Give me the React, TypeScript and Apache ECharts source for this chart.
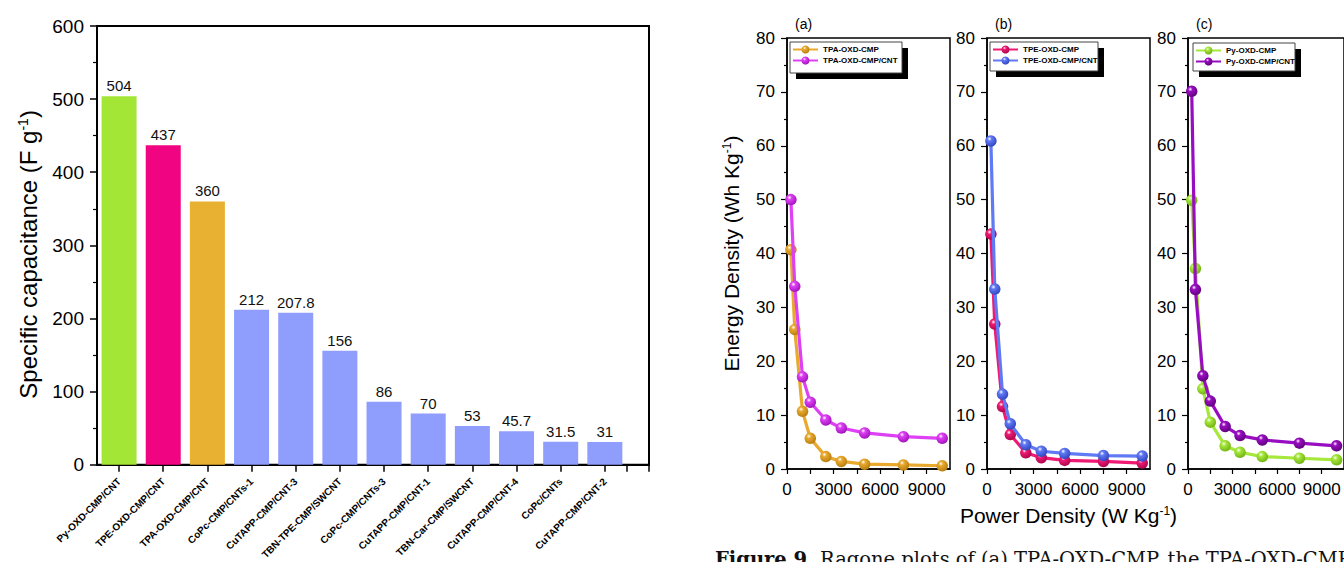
import React, { useEffect, useRef } from 'react';
import * as echarts from 'echarts';

// ---------- Data: specific capacitance bar chart ----------
const barCategories = [
  'Py-OXD-CMP/CNT',
  'TPE-OXD-CMP/CNT',
  'TPA-OXD-CMP/CNT',
  'CoPc-CMP/CNTs-1',
  'CuTAPP-CMP/CNT-3',
  'TBN-TPE-CMP/SWCNT',
  'CoPc-CMP/CNTs-3',
  'CuTAPP-CMP/CNT-1',
  'TBN-Car-CMP/SWCNT',
  'CuTAPP-CMP/CNT-4',
  'CoPc/CNTs',
  'CuTAPP-CMP/CNT-2',
];
const capacitance = [504, 437, 360, 212, 207.8, 156, 86, 70, 53, 45.7, 31.5, 31];
const barColors = [
  '#A4E636', '#F00482', '#E8B132',
  '#8F9DFC', '#8F9DFC', '#8F9DFC', '#8F9DFC', '#8F9DFC',
  '#8F9DFC', '#8F9DFC', '#8F9DFC', '#8F9DFC',
];

// ---------- Data: Ragone plots ----------
const powerDensity = [250, 500, 1000, 1500, 2500, 3500, 5000, 7500, 10000];
const tpaCmp = [40.7, 25.9, 10.7, 5.7, 2.3, 1.4, 0.9, 0.75, 0.6];
const tpaCmpCnt = [50.0, 33.9, 17.1, 12.4, 9.1, 7.6, 6.7, 6.0, 5.7];
const tpeCmp = [43.6, 26.9, 11.6, 6.4, 3.0, 2.1, 1.6, 1.4, 1.1];
const tpeCmpCnt = [60.9, 33.4, 13.9, 8.4, 4.5, 3.3, 2.9, 2.5, 2.4];
const pyCmp = [49.9, 37.2, 14.9, 8.7, 4.3, 3.1, 2.3, 2.0, 1.7];
const pyCmpCnt = [70.1, 33.3, 17.3, 12.6, 7.9, 6.2, 5.4, 4.8, 4.3];

const FONT = 'Liberation Sans, Arial, Helvetica, sans-serif';
const SERIF = 'DejaVu Serif, Liberation Serif, serif';

const panels = [
  {
    tag: '(a)',
    left: 787,
    box: [790, 42, 112, 31],
    series: [
      { name: 'TPA-OXD-CMP', data: tpaCmp, color: '#E8A92E', dark: '#B97F10' },
      { name: 'TPA-OXD-CMP/CNT', data: tpaCmpCnt, color: '#DE40F4', dark: '#A315BD' },
    ],
  },
  {
    tag: '(b)',
    left: 987,
    box: [990, 42, 108, 29],
    series: [
      { name: 'TPE-OXD-CMP', data: tpeCmp, color: '#EE1A74', dark: '#B0064E' },
      { name: 'TPE-OXD-CMP/CNT', data: tpeCmpCnt, color: '#6079F4', dark: '#3447C2' },
    ],
  },
  {
    tag: '(c)',
    left: 1188,
    box: [1193, 43, 102, 28],
    series: [
      { name: 'Py-OXD-CMP', data: pyCmp, color: '#A6E83C', dark: '#73B315' },
      { name: 'Py-OXD-CMP/CNT', data: pyCmpCnt, color: '#990DC2', dark: '#62047E' },
    ],
  },
];

function sphere(color: string, dark: string) {
  return new echarts.graphic.RadialGradient(0.38, 0.32, 0.68, [
    { offset: 0, color: '#FFFFFF' },
    { offset: 0.28, color },
    { offset: 1, color: dark },
  ]);
}

function buildOption() {
  const grids: any[] = [
    { left: 97, top: 26, width: 552, height: 441, show: true, borderColor: '#000', borderWidth: 2, backgroundColor: 'transparent' },
  ];
  const xAxes: any[] = [
    {
      type: 'value',
      gridIndex: 0,
      min: 0,
      max: barCategories.length + 0.5,
      splitLine: { show: false },
      axisLine: { lineStyle: { color: '#000', width: 2 } },
      axisTick: {
        show: true,
        length: 7,
        lineStyle: { color: '#000', width: 1.5 },
        customValues: [...barCategories.map((_, i) => i + 0.5), barCategories.length, barCategories.length + 0.5],
      },
      axisLabel: {
        customValues: barCategories.map((_, i) => i + 0.5),
        formatter: (v: number) => barCategories[Math.floor(v)] ?? '',
        rotate: 45,
        fontFamily: FONT,
        fontWeight: 'bold',
        fontSize: 10,
        color: '#000',
        margin: 15,
      },
    },
  ];
  const yAxes: any[] = [
    {
      type: 'value',
      gridIndex: 0,
      min: 0,
      max: 600,
      interval: 100,
      splitLine: { show: false },
      axisLine: { show: true, lineStyle: { color: '#000', width: 2 } },
      axisTick: { show: true, length: 7, lineStyle: { color: '#000', width: 1.5 } },
      minorTick: { show: true, splitNumber: 2, length: 4, lineStyle: { color: '#000', width: 1.2 } },
      axisLabel: { fontFamily: FONT, fontSize: 19, color: '#000', margin: 13 },
      name: 'Specific capacitance (F g{sup|-1})',
      nameLocation: 'middle',
      nameGap: 57,
      nameTextStyle: {
        fontFamily: FONT,
        fontSize: 24,
        color: '#000',
        padding: [0, 18, 0, 0],
        rich: { sup: { fontFamily: FONT, fontSize: 14, color: '#000', verticalAlign: 'top' } },
      },
    },
  ];
  const series: any[] = [
    {
      type: 'bar',
      xAxisIndex: 0,
      yAxisIndex: 0,
      barWidth: 35,
      data: capacitance.map((v, i) => ({ value: [i + 0.5, v], itemStyle: { color: barColors[i] } })),
      label: {
        show: true,
        position: 'top',
        distance: 3,
        fontFamily: FONT,
        fontSize: 15,
        color: '#111',
        formatter: (p: any) => String(p.value[1]),
      },
    },
  ];
  const legends: any[] = [];
  const graphics: any[] = [];

  panels.forEach((p, k) => {
    const gi = k + 1;
    grids.push({ left: p.left, top: 38, width: 163, height: 431, show: true, borderColor: '#000', borderWidth: 1.5, backgroundColor: 'transparent' });
    xAxes.push({
      type: 'value',
      gridIndex: gi,
      min: 0,
      max: 10500,
      interval: 1500,
      splitLine: { show: false },
      axisLine: { onZero: false, lineStyle: { color: '#000', width: 1.5 } },
      axisTick: { length: 5, lineStyle: { color: '#000', width: 1.2 } },
      axisLabel: {
        fontFamily: FONT,
        fontSize: 17,
        color: '#000',
        margin: 12,
        showMaxLabel: false,
        formatter: (v: number) => (v % 3000 === 0 ? String(v) : ''),
      },
      ...(k === 1
        ? {
            name: 'Power Density (W Kg{sup|-1})',
            nameLocation: 'middle',
            nameGap: 36,
            nameTextStyle: {
              fontFamily: FONT,
              fontSize: 21,
              color: '#000',
              rich: { sup: { fontFamily: FONT, fontSize: 12, color: '#000', verticalAlign: 'top' } },
            },
          }
        : {}),
    });
    yAxes.push({
      type: 'value',
      gridIndex: gi,
      min: 0,
      max: 80,
      interval: 10,
      splitLine: { show: false },
      axisLine: { show: true, onZero: false, lineStyle: { color: '#000', width: 1.5 } },
      axisTick: { show: true, length: 6, lineStyle: { color: '#000', width: 1.2 } },
      minorTick: { show: true, splitNumber: 2, length: 3, lineStyle: { color: '#000', width: 1.2 } },
      axisLabel: { fontFamily: FONT, fontSize: 17, color: '#000', margin: 12 },
      ...(k === 0
        ? {
            name: 'Energy Density (Wh Kg{sup|-1})',
            nameLocation: 'middle',
            nameGap: 45,
            nameTextStyle: {
              fontFamily: FONT,
              fontSize: 21,
              color: '#000',
              rich: { sup: { fontFamily: FONT, fontSize: 12, color: '#000', verticalAlign: 'top' } },
            },
          }
        : {}),
    });
    p.series.forEach((s, j) => {
      series.push({
        type: 'line',
        name: s.name,
        xAxisIndex: gi,
        yAxisIndex: gi,
        data: powerDensity.map((x, i) => [x, s.data[i]]),
        symbol: 'circle',
        symbolSize: 11.5,
        showAllSymbol: true,
        clip: false,
        z: 2 + j,
        lineStyle: { color: s.color, width: 3.2 },
        itemStyle: { color: sphere(s.color, s.dark), borderWidth: 0 },
      });
    });
    legends.push({
      data: p.series.map((s) => s.name),
      orient: 'vertical',
      left: p.box[0] + 2,
      top: p.box[1] + 3.5,
      padding: 0,
      itemWidth: 25,
      itemHeight: 10,
      itemGap: 3,
      z: 20,
      selectedMode: false,
      textStyle: { fontFamily: FONT, fontSize: 8, fontWeight: 'bold', color: '#000', padding: [0, 0, 0, 0] },
    });
    graphics.push(
      {
        type: 'rect',
        z: 5,
        shape: { x: p.box[0] + 6, y: p.box[1] + 6, width: p.box[2], height: p.box[3] },
        style: { fill: '#000' },
      },
      {
        type: 'rect',
        z: 6,
        shape: { x: p.box[0], y: p.box[1], width: p.box[2], height: p.box[3] },
        style: { fill: '#fff', stroke: '#444', lineWidth: 1 },
      },
      {
        type: 'text',
        z: 6,
        x: p.left + 8,
        y: 24,
        style: { text: p.tag, fontFamily: FONT, fontSize: 14, fill: '#000', verticalAlign: 'middle' },
      }
    );
  });

  graphics.push({
    type: 'text',
    z: 6,
    x: 715,
    y: 549,
    style: {
      text: '{b|Figure 9.} Ragone plots of (a) TPA-OXD-CMP, the TPA-OXD-CMP/CNT, (b) TPE-OXD-CMP',
      fontFamily: SERIF,
      fontSize: 19.5,
      fill: '#111',
      verticalAlign: 'top',
      rich: { b: { fontFamily: SERIF, fontSize: 19.5, fontWeight: 'bold', fill: '#111' } },
    },
  });

  return {
    animation: false,
    backgroundColor: '#fff',
    grid: grids,
    xAxis: xAxes,
    yAxis: yAxes,
    legend: legends,
    graphic: graphics,
    series,
  };
}

export default function App() {
  const ref = useRef<HTMLDivElement>(null);
  useEffect(() => {
    if (!ref.current) return;
    const chart = echarts.init(ref.current, undefined, { renderer: 'svg', width: 1344, height: 562 });
    chart.setOption(buildOption() as any);
    return () => chart.dispose();
  }, []);
  return (
    <div
      ref={ref}
      style={{ position: 'fixed', left: 0, top: 0, width: 1344, height: 562, background: '#fff' }}
    />
  );
}
